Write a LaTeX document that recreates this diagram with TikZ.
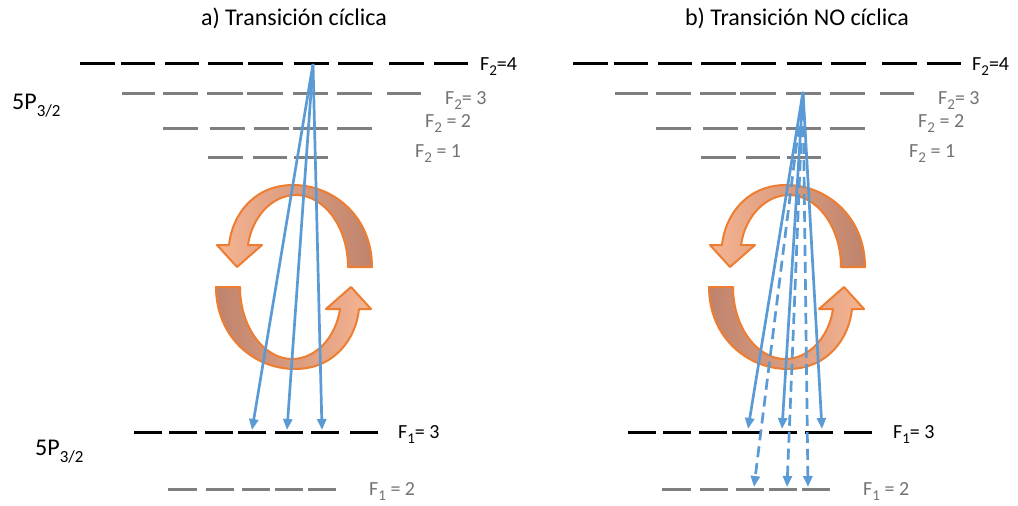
\documentclass[tikz,border=0pt]{standalone}
\usepackage{fontspec}
\setmainfont{Carlito}
\usetikzlibrary{arrows.meta}
\definecolor{lvgray}{HTML}{7F7F7F}
\definecolor{txtgray}{HTML}{737373}
\definecolor{arrblue}{HTML}{5B9BD5}
\definecolor{orline}{HTML}{ED7D31}
\definecolor{orlight}{HTML}{F6B491}
\definecolor{ordark}{HTML}{BF836C}
\newcommand\lowsub[1]{\raisebox{-0.28em}{\fontsize{15}{15}\selectfont #1}}
\newcommand\lowsubb[1]{\raisebox{-0.3em}{\fontsize{17}{17}\selectfont #1}}
\tikzset{
 lvK/.style={line width=3pt, black},
 lvG/.style={line width=3pt, lvgray},
 lblK/.style={anchor=base west, inner sep=0pt, font=\fontsize{20}{24}\selectfont, text=black},
 lblG/.style={lblK, text=txtgray},
 ttl/.style={anchor=base, inner sep=0pt, font=\fontsize{24}{28}\selectfont},
 statelbl/.style={anchor=base west, inner sep=0pt, font=\fontsize{24}{28}\selectfont},
 trans/.style={arrblue, line width=2.7pt, -{Triangle[length=11pt,width=9pt]}},
 transd/.style={trans, dash pattern=on 11pt off 6pt},
 cyc/.style={draw=orline, line width=2pt, line join=round},
}
\newcommand\toplevels{%
  \foreach \a/\b in {80/115,121/155,165/199,208/243,248/283,294/329,338/373,389/424,434/468}
    \draw[lvK] (\a,63) -- (\b,63);
  \foreach \a/\b in {122/155,163/198,207/243,247/283,293/328,337/372,387/421}
    \draw[lvG] (\a,93) -- (\b,93);
  \foreach \a/\b in {163/198,210/245,254/289,293/328,337/372}
    \draw[lvG] (\a,128) -- (\b,128);
  \foreach \a/\b in {208/243,253/287,294/328}
    \draw[lvG] (\a,157) -- (\b,157);
}
\newcommand\bottomlevels{%
  \foreach \a/\b in {134/162,169/197,205/233,238/266,275/303,311/339,350/378}
    \draw[lvK] (\a,432) -- (\b,432);
  \foreach \a/\b in {168/197,206/234,242/270,275/303,308/336}
    \draw[lvG] (\a,489) -- (\b,489);
}
\newcommand\cyclearrows{%
  \path[cyc, left color=orlight, right color=ordark]
    (78,-10) .. controls (78,-60) and (40,-92) .. (-1,-92)
    .. controls (-40,-92) and (-62,-62) .. (-65,-32)
    -- (-77,-32) -- (-57,-10) -- (-32,-32) -- (-46,-32)
    .. controls (-42,-60) and (-22,-82) .. (2,-82)
    .. controls (30,-82) and (54,-50) .. (54,-10) -- cycle;
  \path[cyc, left color=ordark, right color=orlight]
    (-78,10) .. controls (-78,60) and (-40,92) .. (1,92)
    .. controls (40,92) and (62,62) .. (65,32)
    -- (77,32) -- (57,10) -- (32,32) -- (46,32)
    .. controls (42,60) and (22,82) .. (-2,82)
    .. controls (-30,82) and (-54,50) .. (-54,10) -- cycle;
}
\begin{document}
\begin{tikzpicture}[x=1pt,y=-1pt]
\useasboundingbox (0,0) rectangle (1018,506);
\fill[white] (0,0) rectangle (1018,506);

% titles
\node[ttl] (ta) at (294,25) {a) Transición cíclica};
\node[ttl] (tb) at (797,25) {b) Transición NO cíclica};

% state labels
\node[statelbl] (sp1) at (12,109) {5P\lowsubb{3/2}};
\node[statelbl] (sp2) at (35,455) {5P\lowsubb{3/2}};

% levels
\toplevels
\bottomlevels
\begin{scope}[xshift=493pt]\toplevels\end{scope}
\begin{scope}[xshift=494pt]\bottomlevels\end{scope}

% level labels panel a
\node[lblK] (a4) at (480,70) {F\lowsub{2}=4};
\node[lblG] (a3l) at (445,104) {F\lowsub{2}= 3};
\node[lblG] (a2l) at (425,127) {F\lowsub{2} = 2};
\node[lblG] (a1l) at (415,157) {F\lowsub{2} = 1};
\node[lblK] (ag3) at (398,438) {F\lowsub{1}= 3};
\node[lblG] (ag2) at (369,495) {F\lowsub{1} = 2};
% level labels panel b
\node[lblK] (b4) at (972,70) {F\lowsub{2}=4};
\node[lblG] (b3l) at (938,104) {F\lowsub{2}= 3};
\node[lblG] (b2l) at (918,127) {F\lowsub{2} = 2};
\node[lblG] (b1l) at (909,157) {F\lowsub{2} = 1};
\node[lblK] (bg3) at (893,438) {F\lowsub{1}= 3};
\node[lblG] (bg2) at (863,495) {F\lowsub{1} = 2};

% cycle arrows
\begin{scope}[shift={(294,277)}]\cyclearrows\end{scope}
\begin{scope}[shift={(787,277)}]\cyclearrows\end{scope}

% transitions panel a
\coordinate (a0) at (313,64);
\coordinate (aa) at (252,430);
\coordinate (ab) at (287,430);
\coordinate (ac) at (322,430);
\draw[trans] (a0) -- (aa);
\draw[trans] (a0) -- (ab);
\draw[trans] (a0) -- (ac);

% transitions panel b
\coordinate (b0) at (803,92);
\coordinate (ba) at (748,429);
\coordinate (bb) at (782,429);
\coordinate (bc) at (822,429);
\coordinate (bd) at (754,487);
\coordinate (be) at (787,487);
\coordinate (bf) at (808,487);
\draw[trans] (b0) -- (ba);
\draw[trans] (b0) -- (bb);
\draw[trans] (b0) -- (bc);
\draw[transd] (b0) -- (bd);
\draw[transd] (b0) -- (be);
\draw[transd] (b0) -- (bf);
\end{tikzpicture}
\end{document}
